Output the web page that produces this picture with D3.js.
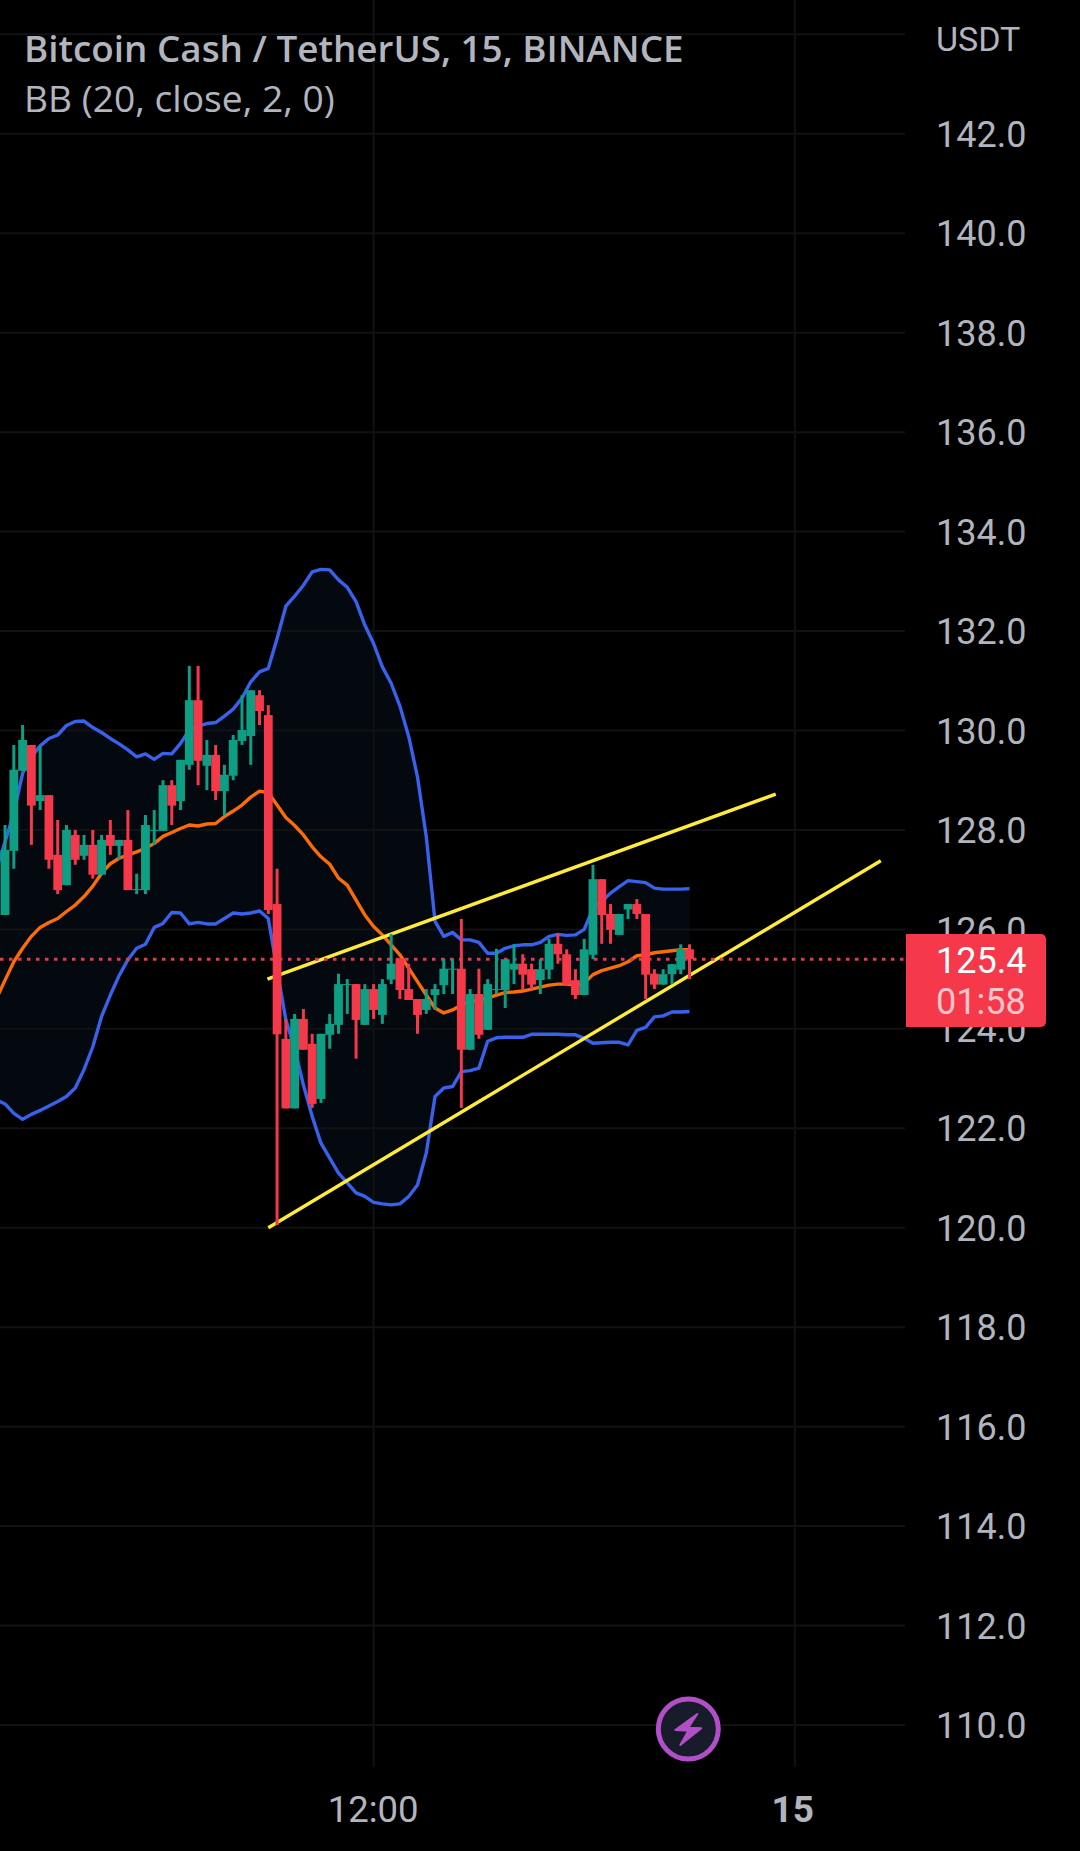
<!DOCTYPE html>
<html>
<head>
<meta charset="utf-8">
<script src="https://cdn.jsdelivr.net/npm/d3@7"></script>
<style>
html,body{margin:0;padding:0;background:#000;}
svg{display:block;}
text{font-family:Roboto,sans-serif;}
</style>
</head>
<body>
<svg id="c" width="1080" height="1851"></svg>
<script>
// bar index: 0 = 12:00, 48 = next day ("15"); 15 minute bars
const firstBar = -42;
const open = [126.29,127.58,129.19,129.71,128.58,128.70,127.50,126.89,127.90,127.48,127.70,127.10,127.90,127.68,127.80,126.79,126.79,127.98,127.98,128.90,128.58,129.31,130.61,129.29,129.51,128.78,129.09,129.79,129.89,130.71,130.31,
126.51,123.80,122.40,124.20,123.70,122.59,123.88,124.08,124.88,124.90,124.08,124.80,124.28,124.99,125.41,124.80,124.60,124.38,124.68,124.88,125.19,125.21,123.58,124.70,123.98,124.78,
124.78,125.19,125.31,125.20,124.98,125.19,125.71,125.50,124.98,124.68,125.49,127.01,126.31,125.89,126.40,126.51,126.31,125.11,124.89,125.10,125.19,125.60];
const high = [128.10,129.71,130.11,129.71,129.68,128.70,128.20,128.10,128.00,127.90,128.00,127.90,128.20,127.80,128.40,127.12,128.30,128.40,129.00,129.00,129.41,131.30,131.30,129.81,129.71,129.31,129.91,130.71,130.81,130.81,130.51,
127.22,124.20,124.30,124.40,123.90,123.90,124.30,125.11,125.00,124.90,124.90,124.90,125.00,125.91,125.41,125.31,124.60,124.80,124.90,125.41,125.41,126.21,124.80,125.21,125.00,125.61,
125.40,125.70,125.50,125.31,125.40,125.81,125.91,125.60,125.20,125.81,127.30,127.01,126.51,126.31,126.51,126.61,126.31,125.20,125.20,125.30,125.70,125.70];
const low = [126.29,127.22,129.19,127.70,128.40,127.22,126.71,126.89,127.30,127.40,127.02,127.10,127.50,127.40,126.79,126.71,126.71,127.70,127.98,128.10,128.40,129.21,128.90,128.80,128.60,128.30,129.00,129.71,129.31,130.11,126.31,
120.05,122.40,122.40,123.58,122.41,122.51,123.60,123.90,124.30,123.40,124.08,124.20,124.10,124.90,124.60,124.58,123.90,124.30,124.38,124.70,124.70,122.41,123.58,123.80,123.98,124.70,
124.42,124.90,124.78,124.80,124.70,125.00,125.31,124.89,124.60,124.68,125.40,125.71,125.71,125.89,126.21,126.21,124.60,124.80,124.89,124.90,125.10,125.00];
const close = [127.60,129.21,129.81,128.49,128.70,127.40,126.79,128.00,127.40,127.70,127.10,127.80,127.68,127.80,126.79,126.81,128.10,128.00,128.90,128.49,129.41,130.61,129.39,129.51,128.78,129.11,129.81,130.01,130.81,130.39,126.39,
123.89,122.40,124.20,123.58,122.49,123.90,124.10,124.90,124.90,124.18,124.80,124.38,124.90,125.31,124.78,124.58,124.28,124.60,124.80,125.21,125.21,123.58,124.70,123.88,124.90,124.80,
125.40,125.31,125.09,124.89,125.20,125.71,125.50,124.89,124.68,125.60,127.01,126.29,125.99,126.31,126.51,126.31,125.09,124.89,125.10,125.30,125.60,125.40];

const firstBand = -43;
const bbUpper = [127.20,127.76,128.34,129.14,129.47,129.69,129.84,129.91,130.10,130.18,130.19,130.06,129.96,129.84,129.73,129.61,129.47,129.53,129.42,129.54,129.53,129.74,130.01,130.09,130.14,130.16,130.29,130.43,130.65,130.98,131.18,131.25,
131.85,132.50,132.70,132.92,133.19,133.24,133.23,133.03,132.88,132.59,132.12,
131.75,131.28,130.95,130.49,129.88,129.07,127.87,126.16,
125.86,125.94,125.79,125.79,125.74,125.52,125.52,125.62,125.67,125.69,125.69,125.74,125.86,125.90,125.88,125.89,126.00,126.42,126.56,126.73,126.86,126.98,126.96,126.94,126.83,126.81,126.81,126.81,126.82];
const bbMiddle = [124.60,124.98,125.35,125.62,125.86,126.04,126.14,126.22,126.36,126.49,126.66,126.87,127.13,127.32,127.43,127.50,127.56,127.63,127.73,127.87,127.95,128.03,128.10,128.08,128.12,128.13,128.27,128.38,128.50,128.66,128.78,128.75,
128.50,128.25,128.09,127.90,127.66,127.46,127.31,127.03,126.89,126.59,126.29,
126.06,125.89,125.69,125.49,125.22,124.95,124.68,124.42,
124.32,124.38,124.48,124.55,124.58,124.62,124.68,124.73,124.74,124.76,124.80,124.84,124.88,124.90,124.90,124.88,124.92,125.09,125.17,125.22,125.27,125.35,125.47,125.49,125.53,125.55,125.57,125.59,125.59];
const bbLower = [122.57,122.49,122.30,122.18,122.28,122.36,122.45,122.54,122.64,122.81,123.18,123.64,124.25,124.68,125.07,125.39,125.62,125.70,126.04,126.12,126.34,126.33,126.11,126.14,126.11,126.11,126.22,126.33,126.31,126.33,126.37,126.22,
125.19,124.18,123.61,122.87,122.24,121.70,121.40,121.10,120.90,120.70,120.63,
120.51,120.48,120.46,120.48,120.63,120.86,121.50,122.64,
122.81,122.84,123.14,123.16,123.21,123.75,123.82,123.83,123.83,123.83,123.89,123.89,123.89,123.89,123.88,123.88,123.81,123.71,123.72,123.73,123.73,123.68,123.97,124.03,124.24,124.26,124.34,124.34,124.35];

const priceTicks = [110,112,114,116,118,120,122,124,126,128,130,132,134,136,138,140,142];
const gridPrices = [110,112,114,116,118,120,122,124,126,128,130,132,134,136,138,140,142,144];
const timeTicks = [0,48];
const timeLabels = ["12:00","15"];
const trendUpper = [[-12.1,125.0],[45.83,128.72]];
const trendLower = [[-12.0,120.0],[57.8,127.38]];
const lastPrice = 125.4;
const countdown = "01:58";
const currency = "USDT";
const titleText = "Bitcoin Cash / TetherUS, 15, BINANCE";
const legendText = "BB (20, close, 2, 0)";

const GREEN="#0d9e84", RED="#f5384a", GRID="#111214", TXT="#b2b5be";
const x = d3.scaleLinear().domain([0,48]).range([373.6,794.8]);
const y = d3.scaleLinear().domain([110,130]).range([1725,730.5]);
const svg = d3.select("#c");
svg.append("rect").attr("width",1080).attr("height",1851).attr("fill","#000");

// band fill first, grid over it
const bandIdx = bbUpper.map((_,k)=>k);
const bx = k=>x(firstBand+k);
svg.append("path").datum(bandIdx)
  .attr("d",d3.area().x(bx).y0(k=>y(bbLower[k])).y1(k=>y(bbUpper[k])))
  .attr("fill","#040910");

// grid
svg.append("g").selectAll("line").data(gridPrices).join("line")
  .attr("x1",0).attr("x2",905).attr("y1",d=>y(d)).attr("y2",d=>y(d))
  .attr("stroke",GRID).attr("stroke-width",2);
svg.append("g").selectAll("line").data(timeTicks).join("line")
  .attr("x1",d=>x(d)).attr("x2",d=>x(d)).attr("y1",0).attr("y2",1767)
  .attr("stroke",GRID).attr("stroke-width",2);

// bollinger lines
const lineOf = arr => d3.line().x(bx).y(k=>y(arr[k]));
[[bbUpper,"#3861ec"],[bbLower,"#3861ec"],[bbMiddle,"#fb6c08"]].forEach(([arr,col])=>{
  svg.append("path").datum(bandIdx).attr("d",lineOf(arr))
    .attr("fill","none").attr("stroke",col).attr("stroke-width",3.4).attr("stroke-linejoin","round");
});

// trend lines
const tl = d3.line().x(d=>x(d[0])).y(d=>y(d[1]));
[trendUpper,trendLower].forEach(t=>{
  svg.append("path").attr("d",tl(t)).attr("fill","none").attr("stroke","#ffeb3b").attr("stroke-width",3.4);
});

// last price dotted
svg.append("line").attr("x1",0).attr("x2",906).attr("y1",y(lastPrice)).attr("y2",y(lastPrice))
  .attr("stroke","#d8404d").attr("stroke-width",3).attr("stroke-dasharray","3.5 5.5");

// candles
const barIdx = open.map((_,k)=>k);
const cx = k=>x(firstBar+k);
const col = k=>close[k]>=open[k]?GREEN:RED;
const candles = svg.append("g");
candles.selectAll("line").data(barIdx).join("line")
  .attr("x1",cx).attr("x2",cx).attr("y1",k=>y(high[k])).attr("y2",k=>y(low[k]))
  .attr("stroke",col).attr("stroke-width",3);
candles.selectAll("rect").data(barIdx).join("rect")
  .attr("x",k=>cx(k)-4.4).attr("width",8.8)
  .attr("y",k=>y(Math.max(open[k],close[k])))
  .attr("height",k=>Math.max(1,Math.abs(y(open[k])-y(close[k]))))
  .attr("fill",col);

// axes
const yAxis = d3.axisRight(y).tickValues(priceTicks).tickSize(0).tickPadding(0).tickFormat(d3.format(".1f"));
const gy = svg.append("g").attr("transform","translate(936,0)").call(yAxis);
gy.select(".domain").remove();
gy.selectAll("text").attr("fill",TXT).attr("font-size",36).attr("font-family","Roboto").attr("dy","0.35em").attr("x",0);

const xAxis = d3.axisBottom(x).tickValues(timeTicks).tickSize(0).tickPadding(0).tickFormat((d,i)=>timeLabels[i]);
const gx = svg.append("g").attr("transform","translate(0,1822)").call(xAxis);
gx.select(".domain").remove();
gx.selectAll("text").attr("fill",TXT).attr("font-size",(d,i)=>i===1?37:36.5).attr("font-family","Roboto").attr("y",0).attr("dy",0)
  .attr("x",(d,i)=>i===1?-2.5:-1)
  .attr("font-weight",(d,i)=>i===1?700:400);

svg.append("text").attr("x",936).attr("y",51).attr("fill",TXT).attr("font-size",34).text(currency);

// price tag
svg.append("path").attr("d","M906,934H1041a5,5 0 0 1 5,5V1022a5,5 0 0 1 -5,5H906Z").attr("fill",RED);
svg.append("text").attr("x",936).attr("y",973).attr("fill","#fff").attr("font-size",36).text(d3.format(".1f")(lastPrice));
svg.append("text").attr("x",936).attr("y",1014).attr("fill","#fcc6cb").attr("font-size",36).text(countdown);

// title
svg.append("text").attr("x",24).attr("y",62).attr("fill",TXT).attr("font-size",36.8).attr("font-weight",600)
  .style("font-family","'Open Sans'").text(titleText);
svg.append("text").attr("x",24).attr("y",112).attr("fill",TXT).attr("font-size",37.2)
  .style("font-family","'Open Sans'").text(legendText);

// lightning badge
const badge = svg.append("g").attr("transform","translate(688.3,1729)");
badge.append("circle").attr("r",30).attr("fill","#171b2a").attr("stroke","#b24fc8").attr("stroke-width",5);
badge.append("path").attr("d","M9,-15L-13,1L0,1.7L-8,16L13,-0.7L0,-1.3Z")
  .attr("fill","#b24fc8").attr("stroke","#b24fc8").attr("stroke-width",2).attr("stroke-linejoin","round");
</script>
</body>
</html>
